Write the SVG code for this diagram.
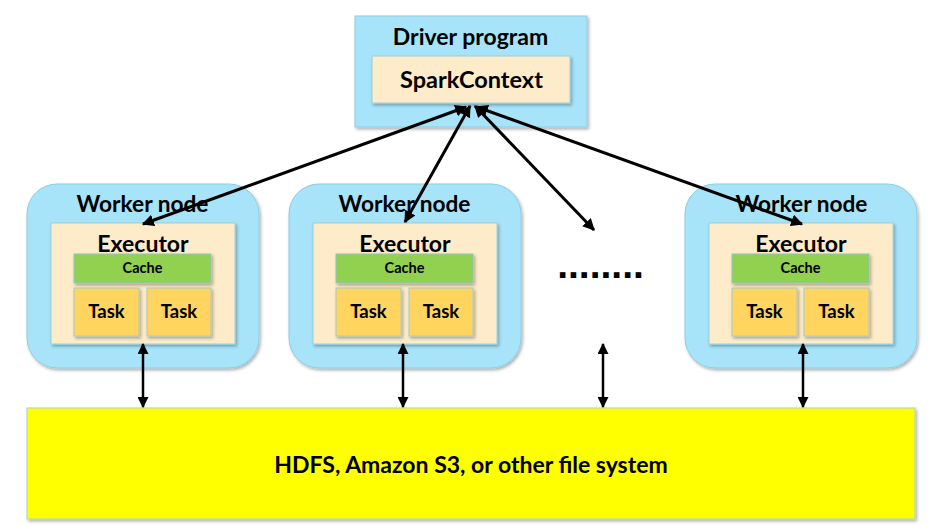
<svg xmlns="http://www.w3.org/2000/svg" width="945" height="526" viewBox="0 0 945 526">
<defs>
<filter id="sh" x="-10%" y="-10%" width="120%" height="130%">
<feDropShadow dx="1.5" dy="2" stdDeviation="1.5" flood-color="#000" flood-opacity="0.3"/>
</filter>
<marker id="ah" viewBox="0 0 10 10" refX="9" refY="5" markerWidth="4" markerHeight="4" orient="auto-start-reverse" markerUnits="strokeWidth">
<path d="M0,0 L10,5 L0,10 Z" fill="#000"/>
</marker>
<marker id="ah2" viewBox="0 0 10 10" refX="9" refY="5" markerWidth="4.4" markerHeight="4.4" orient="auto-start-reverse" markerUnits="strokeWidth">
<path d="M0,0 L10,5 L0,10 Z" fill="#000"/>
</marker>
</defs>
<style>
text{font-family:Lato,"Open Sans","Liberation Sans",sans-serif;font-weight:bold;fill:#000;text-anchor:middle}
.blue{fill:#A7E4FA;stroke:#8FCBE0;stroke-width:1}
.cream{fill:#FDEBC9;stroke:#9CCFD8;stroke-width:1}
.green{fill:#92D050;stroke:#8CC5C8;stroke-width:1}
.task{fill:#FFD55F;stroke:#A8C9C8;stroke-width:1}
.yellow{fill:#FFFF00;stroke:#A9D2C6;stroke-width:1}
.td{font-size:23px}
.ts{font-size:23.5px}
.tw{font-size:22.7px}
.te{font-size:23px}
.th{font-size:23px}
.tc{font-size:14.5px}
.tt{font-size:18.5px}
.conn{stroke:#000;stroke-width:3;fill:none;marker-start:url(#ah);marker-end:url(#ah)}
.vconn{stroke:#000;stroke-width:2.5;fill:none;marker-start:url(#ah2);marker-end:url(#ah2)}
</style>

<g id="storage">
<rect class="yellow" x="27" y="408" width="888" height="111" filter="url(#sh)"/>
<text class="th" x="471" y="473">HDFS, Amazon S3, or other file system</text>
</g>

<g id="driver">
<rect class="blue" x="355" y="16" width="232" height="111" filter="url(#sh)"/>
<text class="td" x="470.5" y="45">Driver program</text>
<rect class="cream" x="372" y="56" width="198" height="47" filter="url(#sh)"/>
<text class="ts" x="471.5" y="88">SparkContext</text>
</g>

<g id="worker1">
<rect class="blue" x="27" y="184" width="232" height="184" rx="30" filter="url(#sh)"/>
<text class="tw" x="142.5" y="212">Worker node</text>
<rect class="cream" x="51" y="223" width="184" height="121" filter="url(#sh)"/>
<text class="te" x="143" y="252">Executor</text>
<rect class="green" x="74" y="254" width="137" height="29" filter="url(#sh)"/>
<text class="tc" x="142.5" y="273">Cache</text>
<rect class="task" x="74" y="288" width="65" height="48" filter="url(#sh)"/>
<text class="tt" x="106.5" y="318">Task</text>
<rect class="task" x="147" y="288" width="64" height="48" filter="url(#sh)"/>
<text class="tt" x="179" y="318">Task</text>
</g>

<g id="worker2">
<rect class="blue" x="289" y="184" width="232" height="184" rx="30" filter="url(#sh)"/>
<text class="tw" x="404.5" y="212">Worker node</text>
<rect class="cream" x="313" y="223" width="184" height="121" filter="url(#sh)"/>
<text class="te" x="405" y="252">Executor</text>
<rect class="green" x="336" y="254" width="137" height="29" filter="url(#sh)"/>
<text class="tc" x="404.5" y="273">Cache</text>
<rect class="task" x="336" y="288" width="65" height="48" filter="url(#sh)"/>
<text class="tt" x="368.5" y="318">Task</text>
<rect class="task" x="409" y="288" width="64" height="48" filter="url(#sh)"/>
<text class="tt" x="441" y="318">Task</text>
</g>

<g id="ellipsis">
<text x="600.5" y="278" style="font-family:'Liberation Sans',Arial,sans-serif;font-size:39px;font-weight:bold">........</text>
</g>

<g id="worker4">
<rect class="blue" x="685" y="184" width="232" height="184" rx="30" filter="url(#sh)"/>
<text class="tw" x="801.5" y="212">Worker node</text>
<rect class="cream" x="709" y="223" width="184" height="121" filter="url(#sh)"/>
<text class="te" x="801" y="252">Executor</text>
<rect class="green" x="732" y="254" width="137" height="29" filter="url(#sh)"/>
<text class="tc" x="800.5" y="273">Cache</text>
<rect class="task" x="732" y="288" width="65" height="48" filter="url(#sh)"/>
<text class="tt" x="764.5" y="318">Task</text>
<rect class="task" x="804" y="288" width="65" height="48" filter="url(#sh)"/>
<text class="tt" x="836.5" y="318">Task</text>
</g>

<g id="connectors">
<line class="conn" x1="466" y1="107" x2="143" y2="224"/>
<line class="conn" x1="470" y1="106" x2="405" y2="222"/>
<line class="conn" x1="475" y1="106" x2="594" y2="230"/>
<line class="conn" x1="477" y1="107" x2="802" y2="224"/>
<line class="vconn" x1="143" y1="344" x2="143" y2="407"/>
<line class="vconn" x1="403" y1="344" x2="403" y2="407"/>
<line class="vconn" x1="603" y1="344" x2="603" y2="407"/>
<line class="vconn" x1="803" y1="344" x2="803" y2="407"/>
</g>
</svg>
